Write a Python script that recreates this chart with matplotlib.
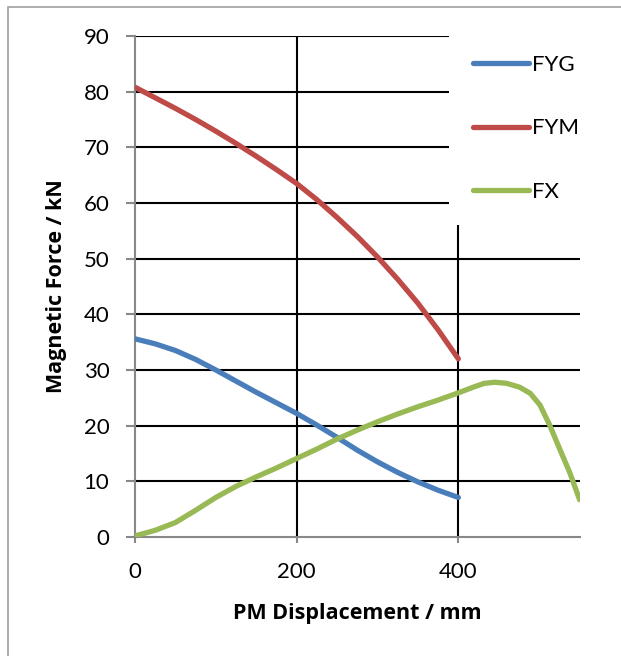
import matplotlib
matplotlib.use("Agg")
import matplotlib.pyplot as plt
from matplotlib.patches import Rectangle

# ---- data ----
x_fyg = [0, 25, 50, 75, 100, 125, 150, 175, 200, 225, 250, 275, 300, 325, 350, 375, 400]
fyg = [35.6, 34.7, 33.5, 31.9, 30.0, 28.0, 26.0, 24.1, 22.2, 20.1, 17.9, 15.6, 13.5, 11.6, 9.9, 8.4, 7.1]
x_fym = [0, 25, 50, 75, 100, 125, 150, 175, 200, 225, 250, 275, 300, 325, 350, 375, 400]
fym = [80.8, 78.9, 77.0, 75.0, 72.9, 70.7, 68.4, 66.0, 63.5, 60.6, 57.4, 54.0, 50.3, 46.3, 42.0, 37.2, 32.0]
x_fx = [0, 25, 50, 75, 100, 125, 150, 175, 200, 225, 250, 275, 300, 325, 350, 375, 400,
        420, 432, 445, 460, 476, 489, 501, 513, 526, 538, 550]
fx = [0.2, 1.2, 2.6, 4.8, 7.1, 9.1, 10.8, 12.4, 14.1, 15.8, 17.6, 19.2, 20.7, 22.1, 23.4, 24.6, 25.9,
      27.0, 27.6, 27.8, 27.6, 26.9, 25.8, 23.7, 20.1, 15.6, 11.5, 6.7]
series_names = ["FYG", "FYM", "FX"]
xticks = [0, 200, 400]
yticks = [0, 10, 20, 30, 40, 50, 60, 70, 80, 90]

plt.rcParams['font.family'] = ['Lato', 'DejaVu Sans']

fig = plt.figure(figsize=(6.21, 6.56), dpi=100)
W, H = 621, 656
ax = fig.add_axes([135/W, 1-537/H, (579.6-135)/W, (537-36)/H])

# figure border
fig.patches.append(Rectangle((8/W, -0.1), 1.2, (656-7)/H + 0.1, transform=fig.transFigure,
                             fill=False, edgecolor='#A0A0A0', linewidth=1.2))

ax.set_xlim(0, 550)
ax.set_ylim(0, 90)

# gridlines (partially hidden by legend area)
for yv in yticks[1:]:
    xe = 388 if yv >= 60 else 550
    ax.plot([0, xe], [yv, yv], color='black', lw=1.5, zorder=1, solid_capstyle='butt')
ax.plot([200, 200], [0, 90], color='black', lw=1.5, zorder=1, solid_capstyle='butt')
ax.plot([400, 400], [0, 56], color='black', lw=1.5, zorder=1, solid_capstyle='butt')

colors = ['#4A7EBB', '#BE4B48', '#98B954']
kw = dict(lw=3.8, solid_joinstyle='round', solid_capstyle='round', zorder=3)
ax.plot(x_fyg, fyg, color=colors[0], label=series_names[0], **kw)
ax.plot(x_fym, fym, color=colors[1], label=series_names[1], **kw)
ax.plot(x_fx, fx, color=colors[2], label=series_names[2], **kw)

for s in ['top', 'right']:
    ax.spines[s].set_visible(False)
for s in ['left', 'bottom']:
    ax.spines[s].set_color('#888888')
    ax.spines[s].set_linewidth(1.5)

ax.set_xticks(xticks)
ax.set_yticks(yticks)
ax.tick_params(axis='y', length=6.5, width=1.5, color='#888888', labelsize=16, pad=12)
ax.tick_params(axis='x', length=4, width=1.5, color='#888888', labelsize=16, pad=14)

lab_font = dict(family=['Open Sans', 'DejaVu Sans'], fontsize=15.5, fontweight='bold')
ax.set_xlabel("PM Displacement / mm", labelpad=15, **lab_font)
ax.set_ylabel("Magnetic Force / kN", labelpad=12, **lab_font)

leg = fig.legend(loc='upper left', bbox_to_anchor=(473/W, 1-55/H), frameon=False,
                 fontsize=16, handlelength=2.5, handletextpad=0.15, labelspacing=1.95,
                 borderpad=0, borderaxespad=0)

fig.savefig("out.png", dpi=100)
